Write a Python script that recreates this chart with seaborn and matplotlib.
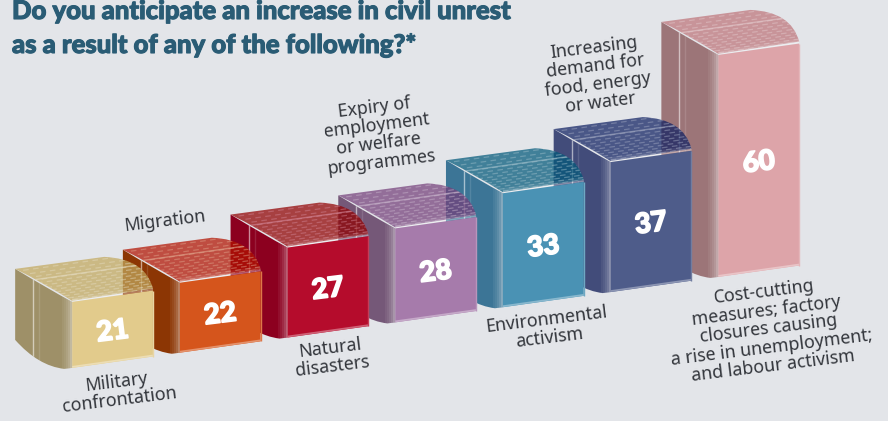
import numpy as np
import pandas as pd
import matplotlib
matplotlib.use("Agg")
import matplotlib.pyplot as plt
import matplotlib.patheffects as pe
from matplotlib.collections import LineCollection
from matplotlib.colors import to_rgb
from matplotlib.patches import PathPatch
from matplotlib.path import Path
from matplotlib.transforms import Affine2D, IdentityTransform
import seaborn as sns

# Survey results, in display order
categories = ["Military confrontation", "Migration", "Natural disasters",
              "Expiry of employment or welfare programmes", "Environmental activism",
              "Increasing demand for food, energy or water", "Cost-cutting measures"]
values = [21, 22, 27, 28, 33, 37, 60]
front_colors = ["#E2CB8C", "#D5551C", "#B50C2C", "#A67BAB", "#4A92B4", "#4E5C8A", "#DDA4A9"]
side_colors = ["#9E9068", "#8C3604", "#8C001F", "#755878", "#3C7596", "#424C7A", "#9C7578"]
top_colors = ["#CBB985", "#C04E1C", "#A80E30", "#946E9A", "#428099", "#4A5788", "#C8949A"]

title_lines = ["Do you anticipate an increase in civil unrest",
               "as a result of any of the following?*"]
label_texts = ["Military\nconfrontation", "Migration", "Natural\ndisasters",
               "Expiry of\nemployment\nor welfare\nprogrammes", "Environmental\nactivism",
               "Increasing\ndemand for\nfood, energy\nor water",
               "Cost-cutting\nmeasures; factory\nclosures causing\na rise in unemployment;\nand labour activism"]
label_centres = [(118, 391), (165, 221), (331, 357), (378, 135), (548, 329), (597, 75), (769, 329)]

BG = "#E3E5E9"
TITLE_COLOR = "#2A5C75"
W, H = 888, 421
AXIS_BASE = 4.5      # the value axis is truncated here
SKEW = 3.79          # baseline rise per category, in value units
DEPTH = (-57, -33)   # pixel offset from a front corner to the back corner
TOP_ALPHA = 0.72

sns.set_theme(style="white")
plt.rcParams["font.family"] = ["Open Sans", "DejaVu Sans"]

fig = plt.figure(figsize=(W / 100, H / 100), dpi=100, facecolor=BG)
ax = fig.add_axes([0, 0, 1, 1])

df = pd.DataFrame({"category": categories, "value": values})
sns.barplot(data=df, x="category", y="value", hue="category", palette=front_colors,
            saturation=1, width=0.75, legend=False, ax=ax, linewidth=0)
ax.set_xlim(-1.045, 7.2)
ax.set_ylim(-10.2, 95.05)
ax.set_axis_off()

# Shear the value axis so the baseline climbs from left to right
shear = Affine2D(np.array([[1, 0, 0], [SKEW, 1, 0], [0, 0, 1]], dtype=float)) + ax.transData
bars = sorted(ax.patches, key=lambda b: b.get_x())
pix = IdentityTransform()


def lighten(color, amount):
    rgb = np.array(to_rgb(color))
    return tuple(rgb + (1 - rgb) * amount)


def see_through(color):
    """Fill colour that reads as `color` once blended over the page at TOP_ALPHA."""
    rgb = (np.array(to_rgb(color)) - (1 - TOP_ALPHA) * np.array(to_rgb(BG))) / TOP_ALPHA
    return tuple(np.clip(rgb, 0, 1))


for i, (bar, value) in enumerate(zip(bars, values)):
    # Bars start at the truncated base; leftmost bars sit in front
    bar.set_y(AXIS_BASE)
    bar.set_height(value - AXIS_BASE)
    bar.set_transform(shear)
    bar.set_clip_on(False)
    z = 10 * (len(values) - i)
    bar.set_zorder(z + 3)

    x0, x1 = bar.get_x(), bar.get_x() + bar.get_width()
    bl, br, tl, tr = shear.transform([(x0, AXIS_BASE), (x1, AXIS_BASE), (x0, value), (x1, value)])
    dx, dy = DEPTH[0], -DEPTH[1]
    back_top = tl + (dx, dy)
    back_bot = bl + (dx, dy - 5)

    # Left side, with a rounded lower back edge
    side_path = Path(
        [back_top, tl + (-24, 13), tl + (0, 0), bl + (0, 0), bl + (-8, -1), bl + (-34, 2), back_bot, back_top],
        [Path.MOVETO, Path.CURVE3, Path.CURVE3, Path.LINETO, Path.LINETO, Path.CURVE3, Path.CURVE3, Path.CLOSEPOLY])
    side = PathPatch(side_path, fc=side_colors[i], ec="none", transform=pix, zorder=z)
    ax.add_patch(side)

    # Fold lines and the rounded highlight next to the front face
    for off, alpha, lw in [(18, .55, 1.0), (24, .12, 1.0), (-9, .07, 1.2), (-7, .12, 1.2),
                           (-5, .2, 1.2), (-3, .3, 1.2), (-1, .45, 1.2)]:
        xpos = back_top[0] + off if off > 0 else tl[0] + off
        line, = ax.plot([xpos, xpos], [bl[1] - 4, tl[1] + 60], color="white", alpha=alpha, lw=lw,
                        transform=pix, zorder=z + 1, solid_capstyle="butt")
        line.set_clip_path(side)

    # Top face, partly see-through at the front-right corner
    peak = tl + (32, 45)
    top_path = Path(
        [back_top, peak, tr + (-8, 32), tr + (0, 2), tl + (0, 1), tl + (-30, 20), back_top, back_top],
        [Path.MOVETO, Path.LINETO, Path.CURVE3, Path.CURVE3, Path.LINETO, Path.CURVE3, Path.CURVE3, Path.CLOSEPOLY])
    top = PathPatch(top_path, fc=see_through(top_colors[i]), ec="none", alpha=TOP_ALPHA,
                    transform=pix, zorder=z + 2)
    ax.add_patch(top)

    # Rows of small highlights across the top, tightening towards the front edge
    slope = (tr[1] - tl[1]) / (tr[0] - tl[0])
    rows = []
    n_rows = 14
    for r in range(n_rows):
        t = (r / (n_rows - 1)) ** 0.75
        start = back_top + t * np.array([-dx, -dy]) + (-12 * (1 - t), 2)
        end = start + (140, 140 * slope)
        rows.append([start, end])
    dashes = LineCollection(rows, colors=[lighten(top_colors[i], .5)], linewidths=.9, alpha=.45,
                            linestyles=[(0, (4.5, 3.5))], transform=pix, zorder=z + 2.5)
    ax.add_collection(dashes, autolim=False)
    dashes.set_clip_path(top)

    # Crease across the top, plus the glossy band at the front edge
    crease = ax.plot([back_top[0] + 18, tr[0] + 2],
                     [back_top[1] - 11, back_top[1] - 11 + (tr[0] - back_top[0] - 16) * slope],
                     color=lighten(top_colors[i], .5), lw=1, alpha=.6, transform=pix, zorder=z + 2.6)[0]
    crease.set_clip_path(top)
    for w, a in [(5, .08), (3, .12), (1.5, .22)]:
        ax.plot([tl[0], tr[0]], [tl[1] + w / 2, tr[1] + w / 2], color="white", lw=w * .72, alpha=a,
                transform=pix, zorder=z + 2.7, solid_capstyle="butt")

    # Light rims on the bottom and right of the front face
    ax.plot([bl[0], br[0]], [bl[1] + 1, br[1] + 1], color=lighten(front_colors[i], .35), lw=1.3,
            transform=pix, zorder=z + 4, solid_capstyle="butt")
    ax.plot([br[0], br[0]], [br[1], tr[1]], color=lighten(front_colors[i], .2), lw=1,
            transform=pix, zorder=z + 4, solid_capstyle="butt")

    # Value in the middle of the front face
    ax.text(i, (AXIS_BASE + value) / 2 + SKEW * i - 0.6, str(value), transform=ax.transData,
            color="white", fontsize=20, fontweight="black", family=["Lato", "Open Sans"],
            ha="center", va="center", rotation=7, rotation_mode="anchor", zorder=z + 5,
            path_effects=[pe.withStroke(linewidth=1.2, foreground="white")])

    # Category label
    cx, cy = label_centres[i]
    fig.text(cx / W, 1 - cy / H, label_texts[i], color="#33363C", fontsize=12.8, ha="center", va="center",
             family=["Noto Sans", "Open Sans"], rotation=7, rotation_mode="anchor", linespacing=1.04,
             multialignment="center")

for line_text, baseline in zip(title_lines, (19, 53)):
    fig.text(12 / W, 1 - baseline / H, line_text, color=TITLE_COLOR, fontsize=18.5, fontweight="black",
             family=["Lato", "Open Sans"], ha="left", va="baseline",
             path_effects=[pe.withStroke(linewidth=0.8, foreground=TITLE_COLOR)])

fig.savefig("out.png", dpi=100, facecolor=BG)
